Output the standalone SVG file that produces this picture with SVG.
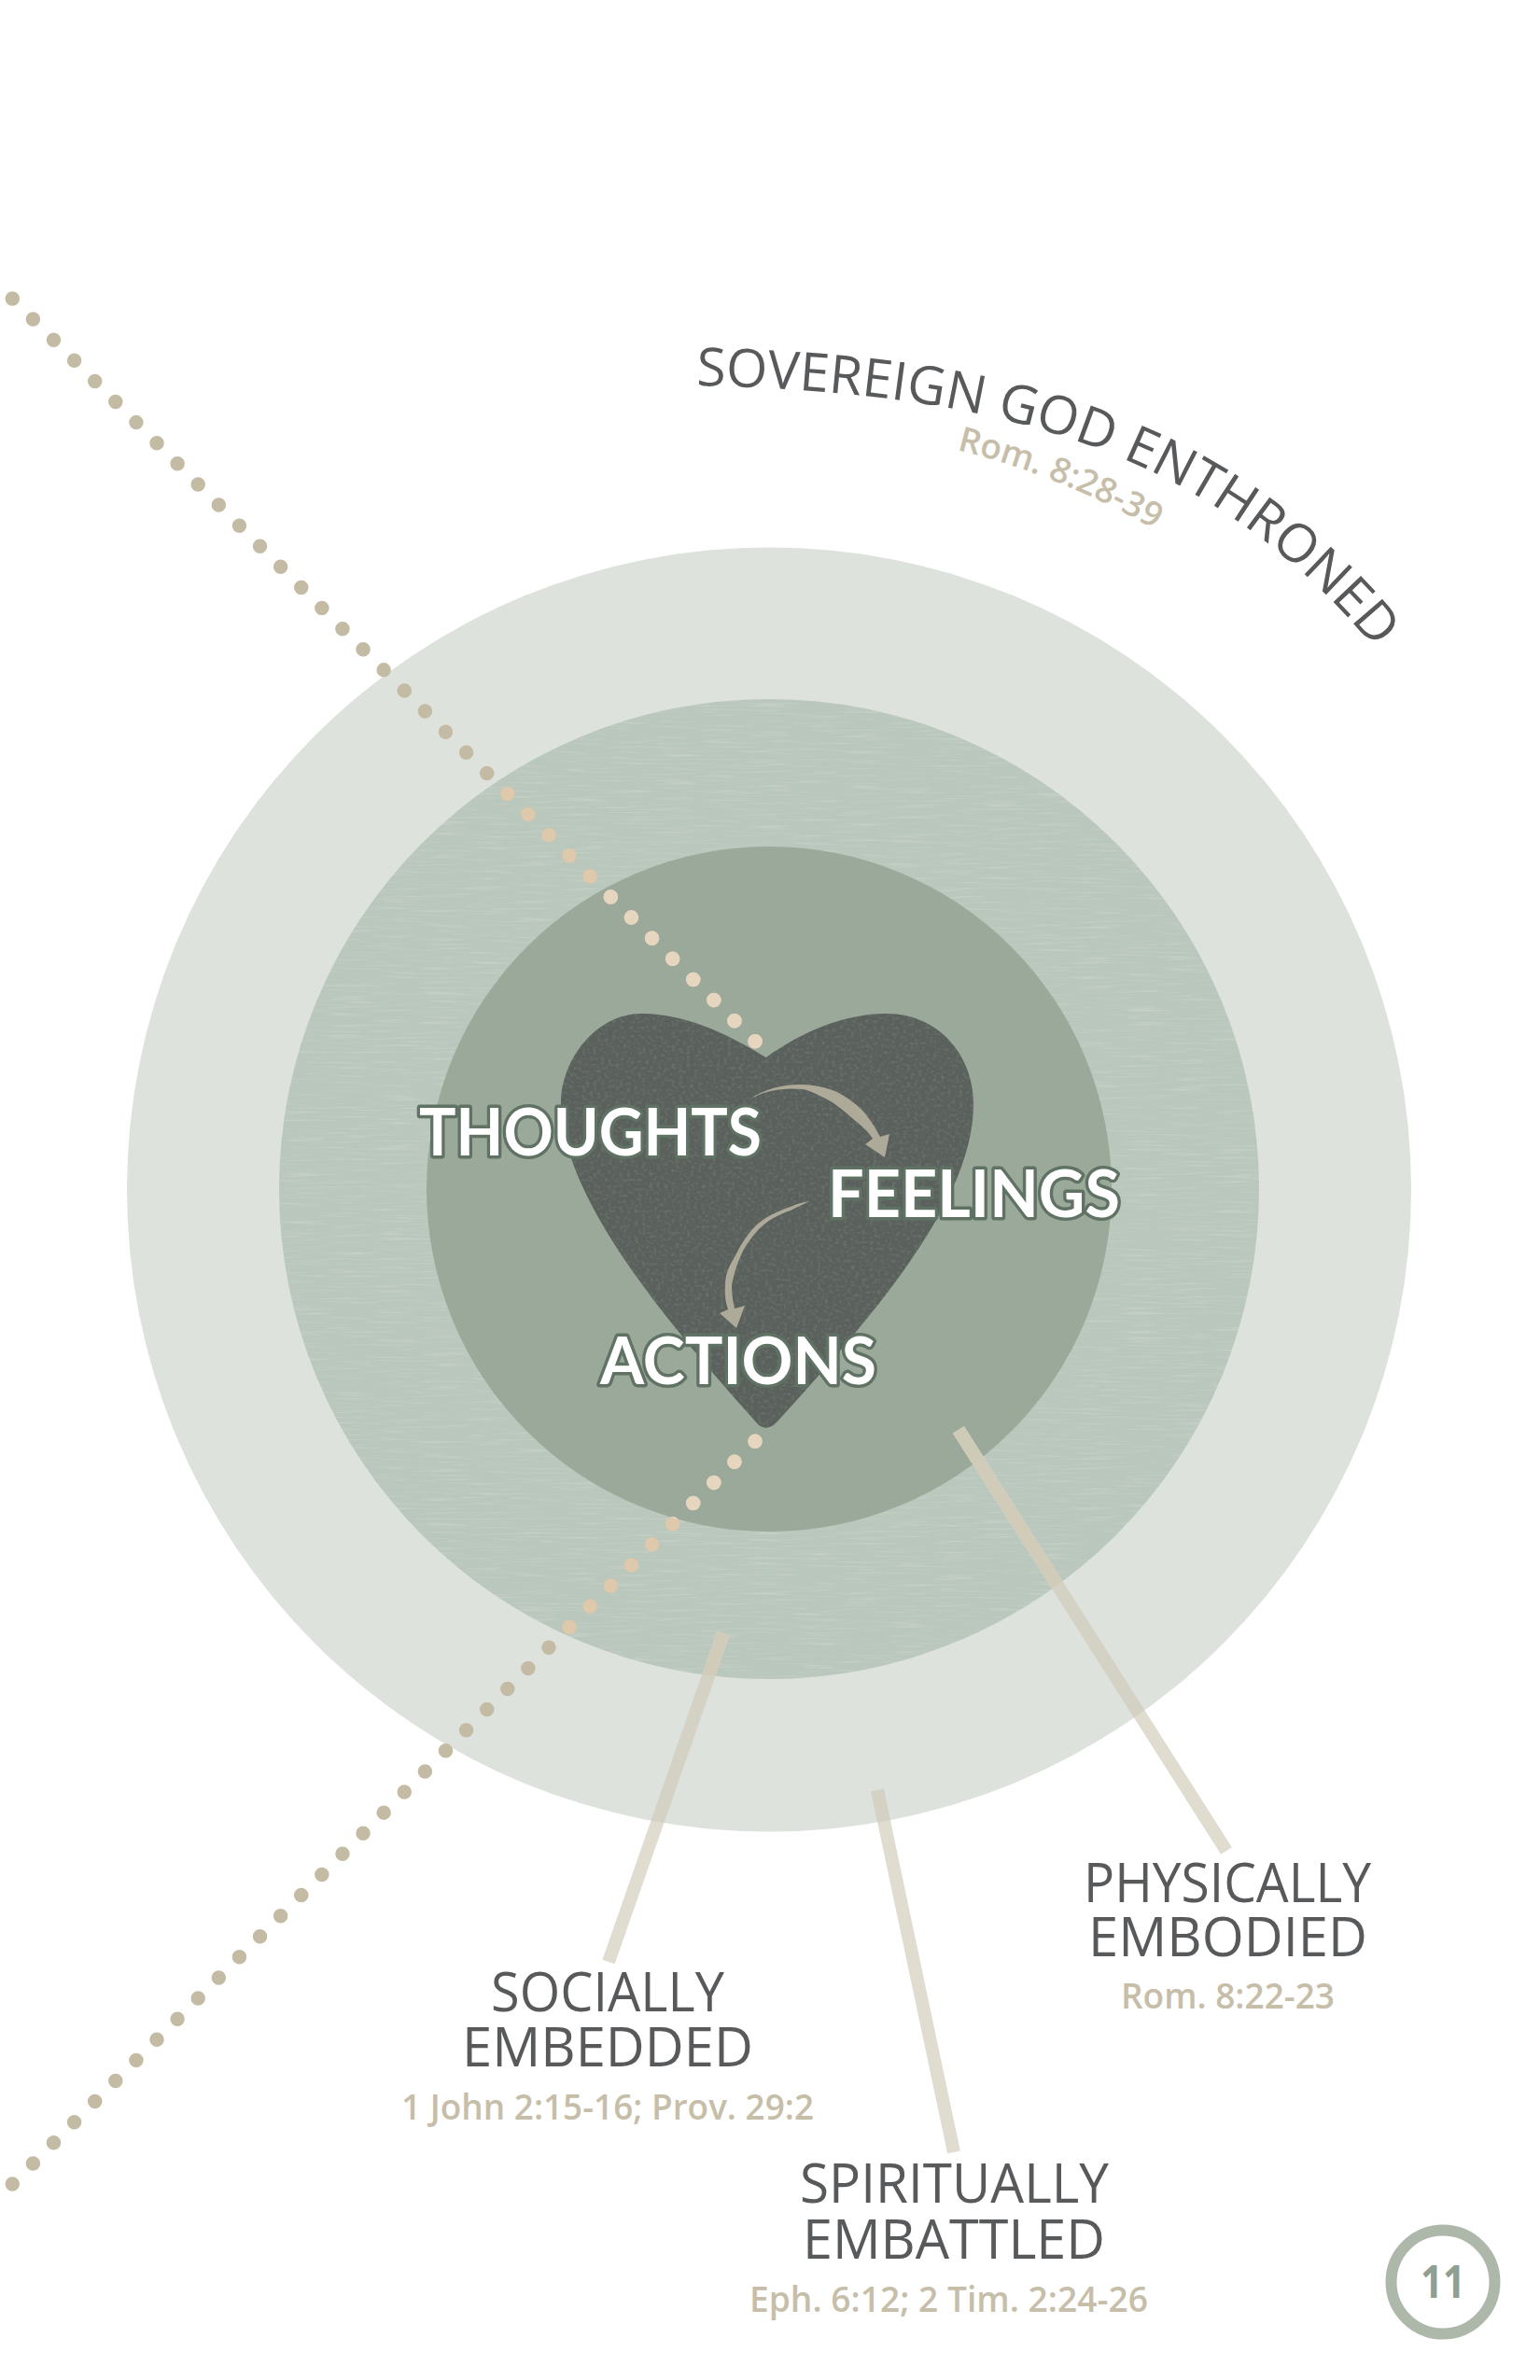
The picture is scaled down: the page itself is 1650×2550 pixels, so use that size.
<svg xmlns="http://www.w3.org/2000/svg" width="1650" height="2550" viewBox="0 0 1650 2550">
<style>
.lab{font-family:"Open Sans","Liberation Sans",sans-serif;font-size:58px;font-weight:400;fill:#58595b}
.ref{font-family:"Open Sans","Liberation Sans",sans-serif;font-size:38px;font-weight:600;fill:#c6bea9}
.big{font-family:Lato,"Liberation Sans",sans-serif;font-size:70px;font-weight:700;fill:#fff;stroke:#5f7264;stroke-width:7px;stroke-linejoin:round;paint-order:stroke}
#dotlines{fill:none;stroke-width:15.5;stroke-linecap:round;stroke-dasharray:0 31.26}
#leads{fill:none;stroke-width:14}
.arrow{fill:#aeaa99}
</style>
<defs>
<path id="arcA" d="M746 413 C1027 420 1290 460 1485 710"/>
<path id="arcB" d="M1025 482 Q1140 510 1245 572"/>
<clipPath id="clipOuter"><circle cx="824" cy="1274.5" r="688"/></clipPath>
<clipPath id="clipMiddle"><circle cx="824" cy="1274" r="525"/></clipPath>
<clipPath id="clipInner"><circle cx="824" cy="1274" r="367"/></clipPath>
<filter id="brushed" x="0" y="0" width="1" height="1" color-interpolation-filters="sRGB">
<feTurbulence type="fractalNoise" baseFrequency="0.02 0.45" numOctaves="3" seed="7"/>
<feColorMatrix values="0 0 0 0 1 0 0 0 0 1 0 0 0 0 1 0.5 0 0 0 -0.25"/>
<feComposite in2="SourceGraphic" operator="in" result="n"/>
<feMerge><feMergeNode in="SourceGraphic"/><feMergeNode in="n"/></feMerge>
</filter>
<filter id="grain" x="0" y="0" width="1" height="1" color-interpolation-filters="sRGB">
<feTurbulence type="fractalNoise" baseFrequency="0.25 0.3" numOctaves="2" seed="3"/>
<feColorMatrix values="0 0 0 0 1 0 0 0 0 1 0 0 0 0 1 0.28 0 0 0 -0.13"/>
<feComposite in2="SourceGraphic" operator="in" result="n"/>
<feMerge><feMergeNode in="SourceGraphic"/><feMergeNode in="n"/></feMerge>
</filter>
<g id="dotlines">
<line x1="13.3" y1="320" x2="810" y2="1116.7"/>
<line x1="13.3" y1="2340" x2="810" y2="1543.3"/>
</g>
<g id="leads">
<line x1="1027" y1="1532" x2="1314" y2="1983"/>
<line x1="775" y1="1750" x2="652" y2="2102"/>
<line x1="940" y1="1918" x2="1022" y2="2306"/>
</g>
</defs>
<rect width="1650" height="2550" fill="#fff"/>
<g id="circles">
<circle id="outer" cx="824" cy="1274.5" r="688" fill="#dde2dd"/>
<circle id="middle" cx="824" cy="1274" r="525" fill="#bac7bc" filter="url(#brushed)"/>
<circle id="inner" cx="824" cy="1274" r="367" fill="#9ba99a"/>
</g>
<g id="connectors">
<use href="#dotlines" stroke="#c4bba5"/>
<use href="#dotlines" stroke="#dfc9ac" clip-path="url(#clipMiddle)"/>
<use href="#dotlines" stroke="#e6d6c0" clip-path="url(#clipInner)"/>
<use href="#leads" stroke="#e0ddd0"/>
<use href="#leads" stroke="#d4d1c5" clip-path="url(#clipOuter)"/>
<use href="#leads" stroke="#d0ccb9" clip-path="url(#clipMiddle)"/>
<use href="#leads" stroke="#cdcbb6" clip-path="url(#clipInner)"/>
</g>
<g id="heart">
<path fill="#5a605b" filter="url(#grain)" d="M820.7 1133 C780 1108 735 1086 687 1086 C640 1086 601 1134 601 1183 C603 1275 690 1390 813 1527 Q823 1534 833 1523 C950 1395 1043 1280 1043 1183 C1043 1130 1005 1086 950 1086 C905 1086 860 1105 820.7 1133Z"/>
</g>
<g id="arrows">
<path class="arrow" d="M803 1178 C820 1166 840 1162 857 1162 C872 1162 885 1165 897 1170 C910 1177 920 1185 927 1193 C933 1201 938 1208 943 1218 L953 1215 L948 1240 L927 1226 L935 1220 C930 1212 922 1205 913 1198 C902 1188 892 1180 880 1175 C873 1171 866 1168 860 1167 C840 1165 820 1168 803 1178Z"/>
<path class="arrow" d="M868 1287 C860 1288 853 1290 847 1293 C832 1298 820 1304 810 1313 C800 1323 793 1335 787 1347 C780 1358 777 1367 777 1377 C776 1386 777 1394 780 1403 L771 1407 L789 1423 L798 1399 L787 1402 C785 1393 784 1385 784 1377 C786 1366 789 1356 793 1347 C798 1335 805 1326 813 1317 C823 1307 835 1301 847 1297 C854 1293 861 1290 868 1287Z"/>
</g>
<g id="thoughts"><text class="big" x="449" y="1238" textLength="367" lengthAdjust="spacingAndGlyphs">THOUGHTS</text></g>
<g id="feelings"><text class="big" x="887" y="1304" textLength="313" lengthAdjust="spacingAndGlyphs">FEELINGS</text></g>
<g id="actions"><text class="big" x="643" y="1483" textLength="296" lengthAdjust="spacingAndGlyphs">ACTIONS</text></g>
<g id="sovereign">
<text class="lab" style="font-size:57px"><textPath href="#arcA">SOVEREIGN GOD ENTHRONED</textPath></text>
<text class="ref" style="font-size:37px"><textPath href="#arcB">Rom. 8:28-39</textPath></text>
</g>
<g id="physically">
<text class="lab" x="1161" y="2038" textLength="308" lengthAdjust="spacingAndGlyphs">PHYSICALLY</text>
<text class="lab" x="1166" y="2096" textLength="299" lengthAdjust="spacingAndGlyphs">EMBODIED</text>
<text class="ref" x="1201" y="2152" textLength="229" lengthAdjust="spacingAndGlyphs">Rom. 8:22-23</text>
</g>
<g id="socially">
<text class="lab" x="526" y="2155" textLength="250" lengthAdjust="spacingAndGlyphs">SOCIALLY</text>
<text class="lab" x="495" y="2214" textLength="312" lengthAdjust="spacingAndGlyphs">EMBEDDED</text>
<text class="ref" x="430" y="2271" textLength="442" lengthAdjust="spacingAndGlyphs">1 John 2:15-16; Prov. 29:2</text>
</g>
<g id="spiritually">
<text class="lab" x="857" y="2360" textLength="331" lengthAdjust="spacingAndGlyphs">SPIRITUALLY</text>
<text class="lab" x="860" y="2420" textLength="324" lengthAdjust="spacingAndGlyphs">EMBATTLED</text>
<text class="ref" x="803" y="2477" textLength="427" lengthAdjust="spacingAndGlyphs">Eph. 6:12; 2 Tim. 2:24-26</text>
</g>
<g id="page">
<circle cx="1546" cy="2445" r="55.5" fill="#fff" stroke="#adb8aa" stroke-width="12"/>
<text x="1522" y="2462" textLength="48" lengthAdjust="spacingAndGlyphs" font-family="Open Sans, Liberation Sans, sans-serif" font-size="48" font-weight="700" fill="#8fa093">11</text>
</g>
</svg>
